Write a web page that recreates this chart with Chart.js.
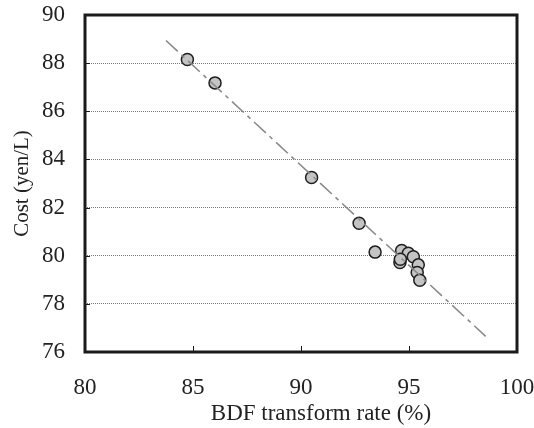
<!DOCTYPE html>
<html>
<head>
<meta charset="utf-8">
<script src="https://cdn.jsdelivr.net/npm/chart.js@4"></script>
<style>
  html, body { margin: 0; padding: 0; background: #fff; }
  #wrap { width: 534px; height: 428px; }
</style>
</head>
<body>
<div id="wrap"><canvas id="costChart" width="534" height="428"></canvas></div>
<script>
// BDF transform rate (%) vs cost (yen/L)
const transformRate = [84.74, 86.02, 90.49, 92.69, 93.43, 94.66, 94.97, 94.58, 94.6, 95.2, 95.43, 95.38, 95.5];
const cost = [88.15, 87.18, 83.25, 81.35, 80.15, 80.22, 80.1, 79.72, 79.85, 79.96, 79.62, 79.3, 78.98];

// end points of the fitted line
const fitRate = [83.75, 98.55];
const fitCost = [88.94, 76.65];

const xTicks = [80, 85, 90, 95, 100];
const yTicks = [76, 78, 80, 82, 84, 86, 88, 90];

const xTitle = "BDF transform rate (%)";
const yTitle = "Cost (yen/L)";

const serif = "'Liberation Serif', 'DejaVu Serif', serif";
Chart.defaults.color = "#222";

const points = transformRate.map((x, i) => ({ x, y: cost[i] }));
const fitLine = fitRate.map((x, i) => ({ x, y: fitCost[i] }));

// frame around the plot, inward tick marks and the x caption
const framePlugin = {
  id: "frame",
  afterDatasetsDraw(chart) {
    const { ctx, chartArea: a, scales } = chart;
    ctx.save();
    ctx.strokeStyle = "#1a1a1a";
    ctx.lineWidth = 1;
    ctx.beginPath();
    xTicks.slice(1, -1).forEach((v) => {
      const px = Math.round(scales.x.getPixelForValue(v)) + 0.5;
      ctx.moveTo(px, a.bottom);
      ctx.lineTo(px, a.bottom - 6);
    });
    yTicks.slice(1, -1).forEach((v) => {
      const py = Math.round(scales.y.getPixelForValue(v)) + 0.5;
      ctx.moveTo(a.left, py);
      ctx.lineTo(a.left + 5, py);
    });
    ctx.stroke();
    ctx.lineWidth = 3;
    ctx.strokeRect(a.left, a.top, a.right - a.left, a.bottom - a.top);

    ctx.fillStyle = "#222";
    ctx.font = `23px ${serif}`;
    ctx.textAlign = "center";
    ctx.textBaseline = "alphabetic";
    ctx.fillText(xTitle, (a.left + a.right) / 2 + 20, 420);
    ctx.restore();
  },
};

new Chart(document.getElementById("costChart"), {
  type: "scatter",
  data: {
    datasets: [
      {
        type: "line",
        data: fitLine,
        borderColor: "#8a8a8a",
        borderWidth: 1.6,
        borderDash: [16, 5, 4, 5],
        pointRadius: 0,
        fill: false,
      },
      {
        data: points,
        pointRadius: 6,
        pointBackgroundColor: "#c4c4c4",
        pointBorderColor: "#1e1e1e",
        pointBorderWidth: 1.5,
      },
    ],
  },
  options: {
    responsive: false,
    animation: false,
    events: [],
    layout: { padding: { top: 15, right: 17, bottom: 0, left: 0 } },
    plugins: { legend: { display: false }, tooltip: { enabled: false } },
    scales: {
      x: {
        type: "linear",
        min: 80,
        max: 100,
        afterBuildTicks: (scale) => { scale.ticks = xTicks.map((value) => ({ value })); },
        afterFit: (scale) => {
          scale.height = 76;
          scale.paddingLeft = 0;
          scale.paddingRight = 0;
        },
        ticks: { padding: 22, font: { family: serif, size: 23 }, color: "#222" },
        grid: { display: false, drawTicks: false },
        border: { display: false },
      },
      y: {
        min: 76,
        max: 90,
        afterBuildTicks: (scale) => { scale.ticks = yTicks.map((value) => ({ value })); },
        afterFit: (scale) => {
          scale.width = 85;
          scale.paddingTop = 0;
          scale.paddingBottom = 0;
        },
        ticks: { padding: 20, font: { family: serif, size: 23 }, color: "#222" },
        grid: { color: "#7a7a7a", lineWidth: 1, drawTicks: false },
        border: { display: false, dash: [1, 1] },
        title: {
          display: true,
          text: yTitle,
          font: { family: serif, size: 21 },
          padding: { top: 10, bottom: 0 },
          color: "#222",
        },
      },
    },
  },
  plugins: [framePlugin],
});
</script>
</body>
</html>
